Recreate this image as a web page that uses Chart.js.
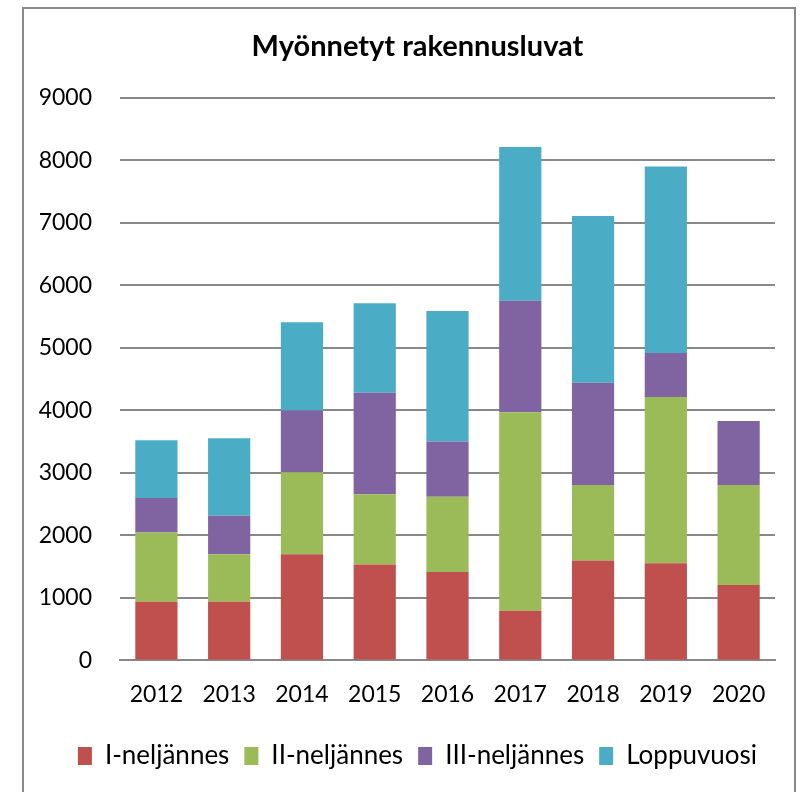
<!DOCTYPE html>
<html>
<head>
<meta charset="utf-8">
<script src="https://cdn.jsdelivr.net/npm/chart.js@4.4.1/dist/chart.umd.min.js"></script>
<style>
html,body{margin:0;padding:0;background:#fff;}
#wrap{position:absolute;left:0;top:0;width:808px;height:792px;}
</style>
</head>
<body>
<div id="wrap"><canvas id="c" width="808" height="792"></canvas></div>
<script>
const categories = ["2012","2013","2014","2015","2016","2017","2018","2019","2020"];
const seriesNames = ["I-neljännes","II-neljännes","III-neljännes","Loppuvuosi"];
const q1 = [940, 940, 1700, 1535, 1415, 795, 1600, 1555, 1205];
const q2 = [1105, 760, 1310, 1125, 1205, 3175, 1205, 2660, 1600];
const q3 = [555, 615, 990, 1625, 885, 1785, 1640, 705, 1025];
const rest = [925, 1240, 1410, 1430, 2085, 2460, 2665, 2985, null];
const yTicks = [0,1000,2000,3000,4000,5000,6000,7000,8000,9000];
const colors = ["#C0504D","#9BBB59","#8064A2","#4BACC6"];

const FONT = "Lato";
const frame = {
  id: 'frame',
  beforeDraw(chart){
    const ctx = chart.ctx;
    ctx.save();
    ctx.fillStyle = '#fff';
    ctx.fillRect(0,0,chart.width,chart.height);
    ctx.strokeStyle = '#888888';
    ctx.lineWidth = 2;
    ctx.strokeRect(23, 8, 772, 800);
    ctx.restore();
  },
  afterLayout(chart){
    // centre title and legend over the region the original uses
    if (chart.legend) { chart.legend.left = 60; }
    if (chart.titleBlock) { chart.titleBlock.left = 60; }
  }
};

const data = {
  labels: categories,
  datasets: [q1,q2,q3,rest].map((d,i)=>({
    label: seriesNames[i],
    data: d,
    backgroundColor: colors[i],
    borderWidth: 0,
    barPercentage: 0.58,
    categoryPercentage: 1.0
  }))
};

new Chart(document.getElementById('c'), {
  type: 'bar',
  data,
  plugins: [frame],
  options: {
    responsive: false,
    animation: false,
    layout: { padding: { left: 30, right: 33, top: 12, bottom: 13 } },
    plugins: {
      title: {
        display: true,
        text: "Myönnetyt rakennusluvat",
        color: '#000',
        font: { family: FONT, size: 29, weight: 'bold', lineHeight: 1.2 },
        padding: { top: 17.6, bottom: 33.6 }
      },
      legend: {
        position: 'bottom',
        labels: {
          color: '#000',
          font: { family: FONT, size: 26 },
          boxWidth: 14,
          boxHeight: 18,
          padding: 15
        }
      },
      tooltip: { enabled: false }
    },
    scales: {
      x: {
        stacked: true,
        grid: { display: false, drawTicks: false },
        border: { display: true, color: '#888888', width: 2 },
        ticks: { color: '#000', font: { family: FONT, size: 23 }, padding: 20, maxRotation: 0 }
      },
      y: {
        stacked: true,
        min: 0,
        max: 9000,
        afterFit(scale){ scale.width = 90; },
        afterBuildTicks(scale){ scale.ticks = yTicks.map(v=>({value:v})); },
        grid: { color: '#888888', lineWidth: 2, drawTicks: false },
        border: { display: false },
        ticks: { color: '#000', font: { family: FONT, size: 23 }, padding: 28,
                 callback: (v)=>String(v) }
      }
    }
  }
});
</script>
</body>
</html>
